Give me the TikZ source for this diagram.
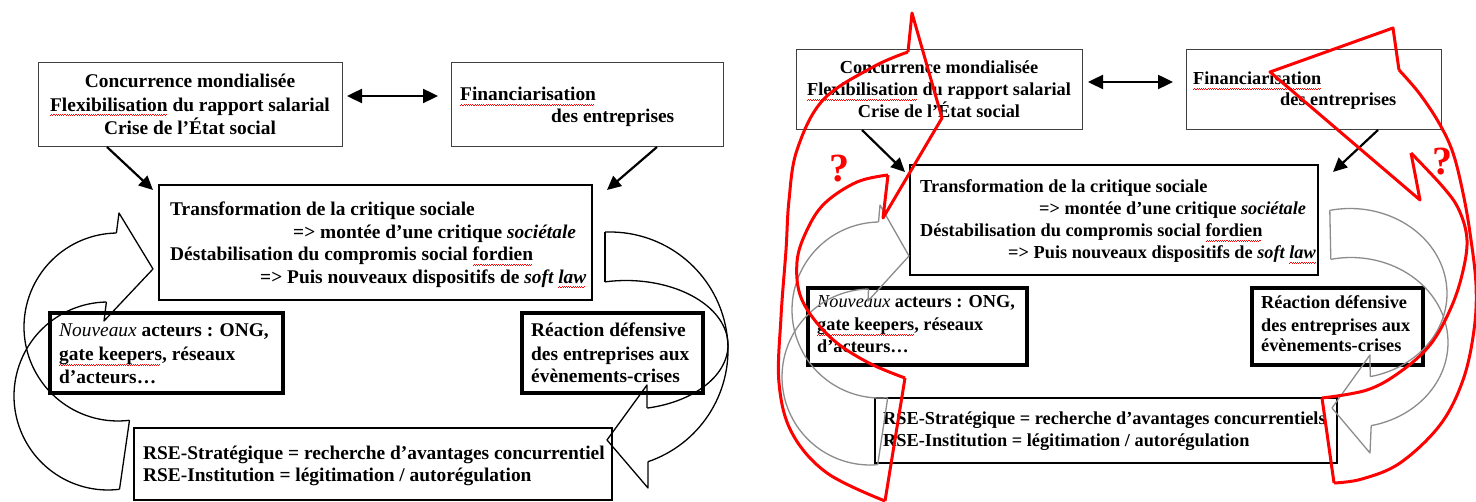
\documentclass[tikz,border=0pt]{standalone}
\usepackage{fontspec}
\setmainfont{Liberation Serif}
\usetikzlibrary{arrows.meta}
\newcommand\sq[1]{\setbox0\hbox{#1}\rlap{\color{red}\hbox to\wd0{\leaders\hbox{\rule[-4.6pt]{1.1pt}{0.8pt}\rule[-3.6pt]{1.1pt}{0.8pt}}\hfill}}\box0\relax}
\definecolor{grayarr}{HTML}{8C8C8C}
\tikzset{
  bx/.style={draw, rectangle, anchor=north west, inner sep=0pt, outer sep=0pt},
  bthin/.style={bx, draw=black!75, line width=1pt},
  bmid/.style={bx, line width=1.8pt},
  bthick/.style={bx, line width=3.3pt},
  brse/.style={bx, line width=2.3pt},
  tl/.style={anchor=base west, inner sep=0pt, font=\fontsize{19.4}{23}\selectfont\bfseries},
  tr/.style={anchor=base west, inner sep=0pt, font=\fontsize{18.3}{22}\selectfont\bfseries},
  blk/.style={draw=black, line width=1.3pt, line join=round},
  gry/.style={draw=grayarr, line width=1.3pt, line join=round},
  rd/.style={draw=red, line width=3pt, line join=round},
  sarrow/.style={line width=2.2pt, -{Triangle[length=14pt,width=13pt]}},
  darrow/.style={line width=2.4pt, {Triangle[length=15pt,width=14pt]}-{Triangle[length=15pt,width=14pt]}},
  qmark/.style={text=red, inner sep=0pt, anchor=base, font=\fontsize{40}{40}\selectfont\bfseries}
}
\begin{document}
\begin{tikzpicture}[x=1pt,y=-1pt]
\useasboundingbox (0,0) rectangle (1476,502);
\fill[white] (0,0) rectangle (1476,502);
\begin{scope}
\clip (0,0) rectangle (1476,502);
% ================= LEFT PANEL =================
\node[bthin, minimum width=304, minimum height=84] (A) at (38,63) {};
\node[bthin, minimum width=272, minimum height=84] (B) at (451,63) {};
\node[bmid, minimum width=433, minimum height=115] (C) at (159,185) {};
\node[bthick, minimum width=233, minimum height=80] (D) at (50,313) {};
\node[bthick, minimum width=181, minimum height=80] (E) at (522,313) {};
\node[brse, minimum width=478, minimum height=72] (F) at (134,428) {};

\node[tl,anchor=base] (A1) at (190,88) {Concurrence mondialisée};
\node[tl,anchor=base] (A2) at (190,111.5) {\sq{Flexibilisation} du rapport salarial};
\node[tl,anchor=base] (A3) at (190,135) {Crise de l’État social};
\node[tl] (B1) at (460,101) {\sq{Financiarisation}};
\node[tl] (B2) at (551,123) {des entreprises};
\node[tl] (C1) at (170,216) {Transformation de la critique sociale};
\node[tl] (C2) at (293,238.5) {=> montée d’une critique \textit{sociétale}};
\node[tl] (C3) at (170,261) {Déstabilisation du compromis social \sq{fordien}};
\node[tl] (C4) at (260,283.5) {=> Puis nouveaux dispositifs de \textit{soft \sq{law}}};
\node[tl] (D1) at (59,337) {{\mdseries\itshape Nouveaux} acteurs : ONG,};
\node[tl] (D2) at (59,361) {\sq{gate keepers}, réseaux};
\node[tl] (D3) at (59,384) {d’acteurs…};
\node[tl] (E1) at (531,337) {Réaction défensive};
\node[tl] (E2) at (531,361) {des entreprises aux};
\node[tl] (E3) at (531,383) {évènements-crises};
\node[tl] (F1) at (143,460) {RSE-Stratégique = recherche d’avantages concurrentiel};
\node[tl] (F2) at (143,482) {RSE-Institution = légitimation / autorégulation};

\coordinate (dL1) at (347,96); \coordinate (dL2) at (438,96);
\draw[darrow] (dL1) -- (dL2);
\coordinate (aL1) at (107,147); \coordinate (aL2) at (153,190);
\draw[sarrow] (aL1) -- (aL2);
\coordinate (bL1) at (657,147); \coordinate (bL2) at (607,190);
\draw[sarrow] (bL1) -- (bL2);

% left curved arrow (black)
\draw[blk] plot[domain=91:277,samples=70] ({118+94*cos(\x)},{327-94*sin(\x)});
\draw[blk] plot[domain=91:277,samples=70] ({108+94*cos(\x)},{396-94*sin(\x)});
\draw[blk] (116.4,233) -- (119,213) -- (153,269) -- (104,321) -- (106.4,302);
\draw[blk] (129.5,420.3) -- (119.5,489.3);
% right curved arrow (black)
\draw[blk] plot[domain=-71.3:92.4,samples=70] ({610+118*cos(\x)},{350-118*sin(\x)});
\draw[blk] plot[domain=-78:102,samples=70] ({626+102*cos(\x)},{345-64.5*sin(\x)});
\draw[blk] (605,232) -- (605,282);
\draw[blk] (647,408) -- (647,385) -- (607,440) -- (648,488) -- (648,462);

% ================= RIGHT PANEL =================
\node[bthin, minimum width=286, minimum height=80] (A') at (796,50) {};
\node[bthin, minimum width=255, minimum height=80] (B') at (1186,50) {};
\node[bmid, minimum width=408, minimum height=110] (C') at (910,165) {};
\node[bthick, minimum width=219, minimum height=77] (D') at (808,288) {};
\node[bthick, minimum width=171, minimum height=77] (E') at (1252,288) {};
\node[brse, minimum width=462, minimum height=65] (F') at (875,398) {};

\node[tr,anchor=base] (A'1) at (939,74) {Concurrence mondialisée};
\node[tr,anchor=base] (A'2) at (939,96) {\sq{Flexibilisation} du rapport salarial};
\node[tr,anchor=base] (A'3) at (939,118) {Crise de l’État social};
\node[tr] (B'1) at (1193,85) {\sq{Financiarisation}};
\node[tr] (B'2) at (1280,106) {des entreprises};
\node[tr] (C'1) at (920,193) {Transformation de la critique sociale};
\node[tr] (C'2) at (1039,215) {=> montée d’une critique \textit{sociétale}};
\node[tr] (C'3) at (920,237) {Déstabilisation du compromis social \sq{fordien}};
\node[tr] (C'4) at (1008,259) {=> Puis nouveaux dispositifs de \textit{soft \sq{law}}};
\node[tr] (D'1) at (817,308) {{\mdseries\itshape Nouveaux} acteurs : ONG,};
\node[tr] (D'2) at (817,331) {\sq{gate keepers}, réseaux};
\node[tr] (D'3) at (817,353) {d’acteurs…};
\node[tr] (E'1) at (1261,309) {Réaction défensive};
\node[tr] (E'2) at (1261,332) {des entreprises aux};
\node[tr] (E'3) at (1261,352) {évènements-crises};
\node[tr] (F'1) at (883,425) {RSE-Stratégique = recherche d’avantages concurrentiels};
\node[tr] (F'2) at (883,447) {RSE-Institution = légitimation / autorégulation};

\coordinate (dR1) at (1088,82); \coordinate (dR2) at (1173,82);
\draw[darrow] (dR1) -- (dR2);
\coordinate (aR1) at (862,130); \coordinate (aR2) at (905,172);
\draw[sarrow] (aR1) -- (aR2);
\coordinate (bR1) at (1378,130); \coordinate (bR2) at (1333,172);
\draw[sarrow] (bR1) -- (bR2);

% gray left curved arrow
\draw[gry] plot[domain=91:275,samples=70] ({880+88*cos(\x)},{310-88*sin(\x)});
\draw[gry] plot[domain=91:275,samples=70] ({870+88*cos(\x)},{377-88*sin(\x)});
\draw[gry] (878.5,222) -- (880,205) -- (909,256) -- (868,301) -- (868.5,289);
\draw[gry] (887.7,397.7) -- (877.7,464.7);
% gray right curved arrow
\draw[gry] plot[domain=-78:102,samples=70] ({1350+97*cos(\x)},{293.5-85*sin(\x)});
\draw[gry] plot[domain=-78:102,samples=70] ({1351+97*cos(\x)},{342.5-85*sin(\x)});
\draw[gry] (1329.8,210.4) -- (1330.8,259.4);
\draw[gry] (1370.2,376.6) -- (1370,355) -- (1332,408) -- (1370,453) -- (1371.2,425.6);

% red left curved arrow
\draw[rd] plot[smooth,tension=0.6] coordinates {(908,52) (873,67) (823,100) (797,150) (789,200) (786,250) (781,317) (779,383) (792,433) (827,473) (885,501)};
\draw[rd] plot[smooth,tension=0.6] coordinates {(888,175) (857,182) (825,203) (807,230) (797,262) (802,300) (830,337) (867,362) (905,378)};
\draw[rd] (908,52) -- (912,13) -- (942,118) -- (883,218) -- (888,175);
\draw[rd] (905,378) -- (885,501);
% red right curved arrow
\draw[rd] plot[smooth,tension=0.6] coordinates {(1399,70) (1419,93) (1439,123) (1453,153) (1463,193) (1470,233) (1476,285) (1474,330) (1463,380) (1440,425) (1400,463) (1362,479) (1334,483)};
\draw[rd] plot[smooth,tension=0.6] coordinates {(1411,153) (1443,187) (1459,210) (1467,240) (1462,275) (1450,310) (1430,345) (1400,372) (1367,390) (1322,398)};
\draw[rd] (1399,70) -- (1393,28) -- (1270,72) -- (1420,200) -- (1411,153);
\draw[rd] (1322,398) -- (1334,483);

\node[qmark] (q1) at (839,182) {?};
\node[qmark] (q2) at (1442,175) {?};
\end{scope}
\end{tikzpicture}
\end{document}
